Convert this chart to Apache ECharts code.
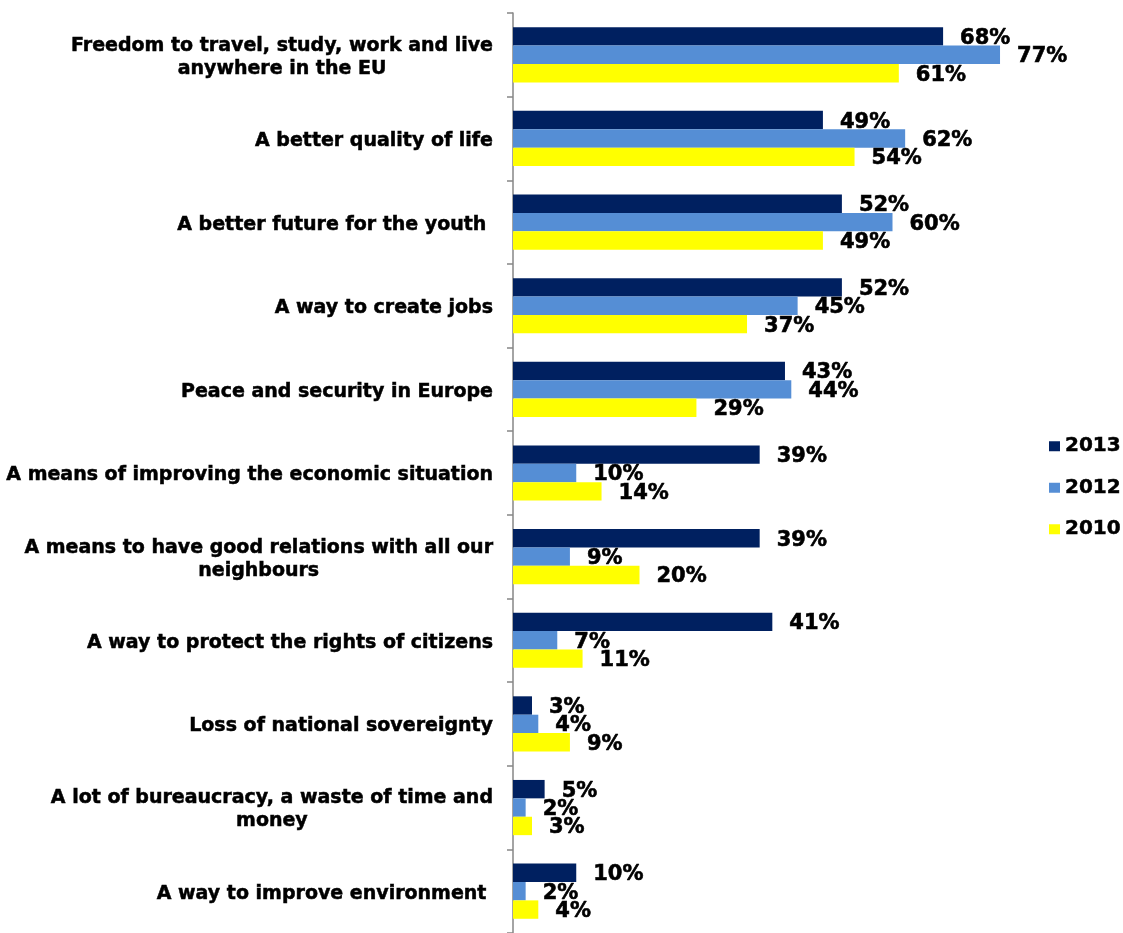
<!DOCTYPE html>
<html>
<head>
<meta charset="utf-8">
<script src="https://cdn.jsdelivr.net/npm/echarts@6/dist/echarts.min.js"></script>
<style>
  html, body { margin: 0; padding: 0; background: #ffffff; }
  #chart { width: 1123px; height: 933px; }
</style>
</head>
<body>
<div id="chart"></div>
<script>
// Perceptions of the EU: share of answers per year (%)
const categories = [
  'Freedom to travel, study, work and live\nanywhere in the EU',
  'A better quality of life',
  'A better future for the youth ',
  'A way to create jobs',
  'Peace and security in Europe',
  'A means of improving the economic situation',
  'A means to have good relations with all our\nneighbours',
  'A way to protect the rights of citizens',
  'Loss of national sovereignty',
  'A lot of bureaucracy, a waste of time and\nmoney',
  'A way to improve environment '
];
const seriesNames = ['2013', '2012', '2010'];
const values2013 = [68, 49, 52, 52, 43, 39, 39, 41, 3, 5, 10];
const values2012 = [77, 62, 60, 45, 44, 10, 9, 7, 4, 2, 2];
const values2010 = [61, 54, 49, 37, 29, 14, 20, 11, 9, 3, 4];

const colors = ['#002060', '#558ED5', '#FFFF00'];
const FONT = 'DejaVu Sans';

const chart = echarts.init(document.getElementById('chart'), null, { renderer: 'canvas' });

function barSeries(name, data, color) {
  return {
    name: name,
    type: 'bar',
    data: data,
    barGap: '0%',
    barCategoryGap: '34%',
    itemStyle: { color: color },
    label: {
      show: true,
      position: 'right',
      distance: 17,
      offset: [0, 2],
      formatter: '{c}%',
      color: '#000000',
      fontFamily: FONT,
      fontWeight: 'bold',
      fontSize: 21,
      textBorderColor: '#000000',
      textBorderWidth: 0.6
    }
  };
}

const labelStyle = {
  fontFamily: FONT,
  fontWeight: 'bold',
  fontSize: 19,
  lineHeight: 23,
  color: '#000000',
  textBorderColor: '#000000',
  textBorderWidth: 0.5,
  align: 'center'
};

chart.setOption({
  animation: false,
  backgroundColor: '#ffffff',
  grid: { left: 513, top: 13, width: 6.325 * 80, height: 924, containLabel: false },
  legend: {
    orient: 'vertical',
    left: 1044,
    top: 431,
    itemWidth: 11,
    itemHeight: 10,
    itemGap: 21,
    icon: 'rect',
    data: seriesNames,
    textStyle: {
      fontFamily: FONT, fontWeight: 'bold', fontSize: 20, color: '#000000',
      textBorderColor: '#000000', textBorderWidth: 0.5
    }
  },
  xAxis: {
    type: 'value',
    min: 0,
    max: 80,
    show: false,
    splitLine: { show: false }
  },
  yAxis: {
    type: 'category',
    inverse: true,
    data: categories,
    axisLine: { show: true, lineStyle: { color: '#868686', width: 1.5 } },
    axisTick: { show: true, length: 6, lineStyle: { color: '#868686', width: 1.5 } },
    axisLabel: {
      margin: 20,
      interval: 0,
      padding: [5, 0, 0, 0],
      formatter: function (v) {
        return v.split('\n').map(function (line) { return '{c|' + line + '}'; }).join('\n');
      },
      rich: { c: labelStyle }
    }
  },
  series: [
    barSeries(seriesNames[0], values2013, colors[0]),
    barSeries(seriesNames[1], values2012, colors[1]),
    barSeries(seriesNames[2], values2010, colors[2])
  ]
});
</script>
</body>
</html>
